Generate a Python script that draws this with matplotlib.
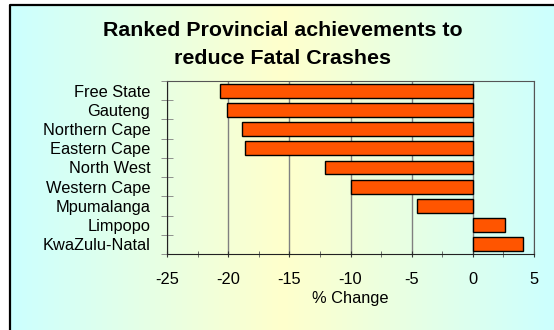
import numpy as np
import matplotlib.pyplot as plt
from matplotlib.colors import LinearSegmentedColormap

plt.rcParams['font.family'] = ['Liberation Sans', 'DejaVu Sans']

# Provinces ranked by change in fatal crashes
provinces = ['Free State', 'Gauteng', 'Northern Cape', 'Eastern Cape', 'North West',
             'Western Cape', 'Mpumalanga', 'Limpopo', 'KwaZulu-Natal']
pct_change = [-20.7, -20.1, -18.9, -18.6, -12.1, -10.0, -4.6, 2.6, 4.1]
x_ticks = [-25, -20, -15, -10, -5, 0, 5]
title_lines = ['Ranked Provincial achievements to', 'reduce Fatal Crashes']

W, H = 554, 330
fig = plt.figure(figsize=(W / 100, H / 100), dpi=100)

# background: cyan -> pale yellow -> cyan gradient inside a black frame
bg = fig.add_axes([0, 0, 1, 1])
bg.set_xlim(0, W)
bg.set_ylim(H, 0)
bg.axis('off')
cmap = LinearSegmentedColormap.from_list('bg', ['#ccffff', '#ffffcc', '#ccffff'])
grad = np.linspace(0, 1, 256).reshape(1, -1)
bg.imshow(grad, cmap=cmap, aspect='auto', extent=[10, W + 2, H + 2, 5], zorder=0)
bg.plot([10, 10, W + 2], [H + 2, 5, 5], color='black', lw=1.6, zorder=1)

for i, line in enumerate(title_lines):
    bg.text(283, 30 + 28 * i, line, ha='center', va='center',
            fontsize=15.4, fontweight='bold')

ax = fig.add_axes([167 / W, 1 - 254 / H, 367 / W, 173 / H])
ax.patch.set_alpha(0)

y = np.arange(len(provinces))
ax.barh(y, pct_change, height=0.72, color='#ff5500', edgecolor='black',
        linewidth=1, zorder=3)

ax.set_xlim(-25, 5)
ax.set_ylim(len(provinces) - 0.5, -0.5)
ax.set_xticks(x_ticks)
ax.set_xticklabels([str(v) for v in x_ticks])
ax.set_xticks(np.arange(-22.5, 5, 5), minor=True)
ax.grid(axis='x', which='major', color='#808080', lw=1, zorder=1)

ax.set_yticks(y)
ax.set_yticklabels(provinces)
ax.set_yticks(np.arange(-0.5, len(provinces), 1), minor=True)

ax.tick_params(axis='y', which='major', length=0, pad=12, labelsize=11.8)
ax.tick_params(axis='y', which='minor', direction='inout', length=9, color='#808080')
ax.tick_params(axis='x', which='major', direction='inout', length=5, pad=10.5,
               labelsize=11.8, color='#333333')
ax.tick_params(axis='x', which='minor', direction='inout', length=4, color='#555555')

ax.set_xlabel('% Change', fontsize=11.8, labelpad=3)

for side in ['left', 'bottom']:
    ax.spines[side].set_color('#222222')
for side in ['top', 'right']:
    ax.spines[side].set_color('#555555')

fig.savefig('out.png', dpi=100)
